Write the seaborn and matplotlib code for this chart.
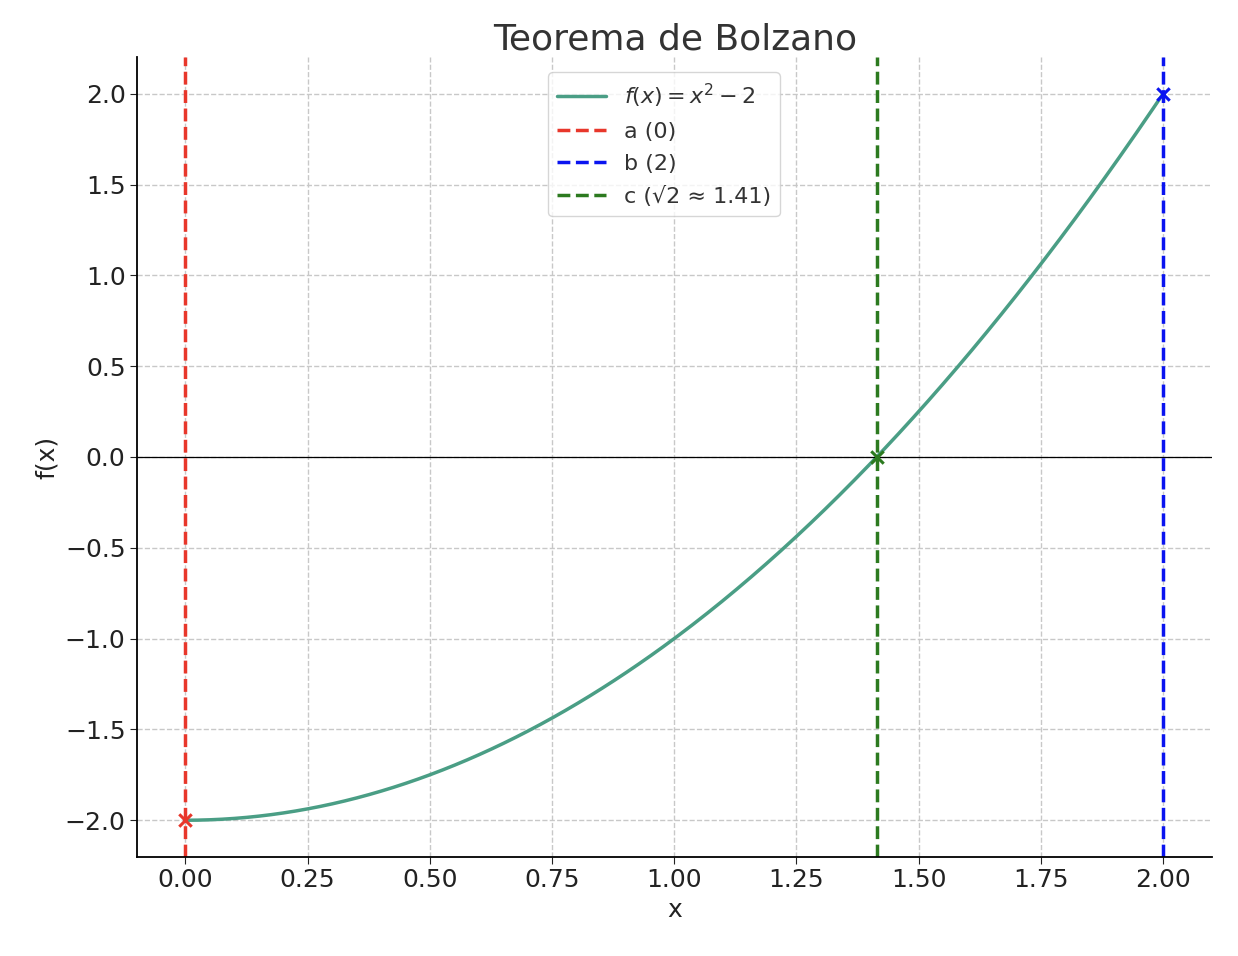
import numpy as np
import matplotlib
matplotlib.use("Agg")
import matplotlib.pyplot as plt
import seaborn as sns
import pandas as pd

a, b = 0.0, 2.0
c = np.sqrt(2)
xs = np.linspace(a, b, 400)
df = pd.DataFrame({"x": xs, "y": xs**2 - 2})
marks_x = [a, c, b]
marks_y = [-2.0, 0.0, 2.0]
marks_c = ["#e8372b", "#2c7a1f", "#0a14f0"]

sns.set_style("white")
fig, ax = plt.subplots(figsize=(12.38, 9.56), dpi=100)
fig.subplots_adjust(left=0.111, right=0.979, top=0.940, bottom=0.104)
sns.lineplot(data=df, x="x", y="y", ax=ax, color="#4a9e85", lw=2.5, label=r"$f(x) = x^2 - 2$")
ax.axhline(0, color="black", lw=0.9)
ax.axvline(a, color=marks_c[0], ls="--", lw=2.5, label="a (0)")
ax.axvline(b, color=marks_c[2], ls="--", lw=2.5, label="b (2)")
ax.axvline(c, color=marks_c[1], ls="--", lw=2.5, label="c (√2 ≈ 1.41)")
for mx, my, mc in zip(marks_x, marks_y, marks_c):
    ax.scatter([mx], [my], marker="x", color=mc, s=80, linewidths=2.2, zorder=5)
ax.set_xlim(-0.098, 2.10)
ax.set_ylim(-2.2, 2.2)
ax.set_xticks(np.arange(0, 2.01, 0.25))
ax.set_xticklabels([f"{v:.2f}" for v in np.arange(0, 2.01, 0.25)])
ax.set_yticks(np.arange(-2, 2.01, 0.5))
ax.grid(True, ls="--", color="#c8c8c8", lw=1)
for s in ["top", "right"]:
    ax.spines[s].set_visible(False)
for s in ["left", "bottom"]:
    ax.spines[s].set_color("black")
    ax.spines[s].set_linewidth(1.3)
ax.tick_params(labelsize=18, colors="#222222", length=5, left=True, bottom=True)
ax.set_xlabel("x", fontsize=18, color="#222222")
ax.set_ylabel("f(x)", fontsize=18, color="#222222")
ax.set_title("Teorema de Bolzano", fontsize=26, color="#333333")
leg = ax.legend(loc="upper center", fontsize=16, frameon=True, bbox_to_anchor=(0.49, 0.995),
                labelspacing=0.55, handlelength=2.2)
for t in leg.get_texts():
    t.set_color("#333333")
fig.savefig("out.png", dpi=100)
